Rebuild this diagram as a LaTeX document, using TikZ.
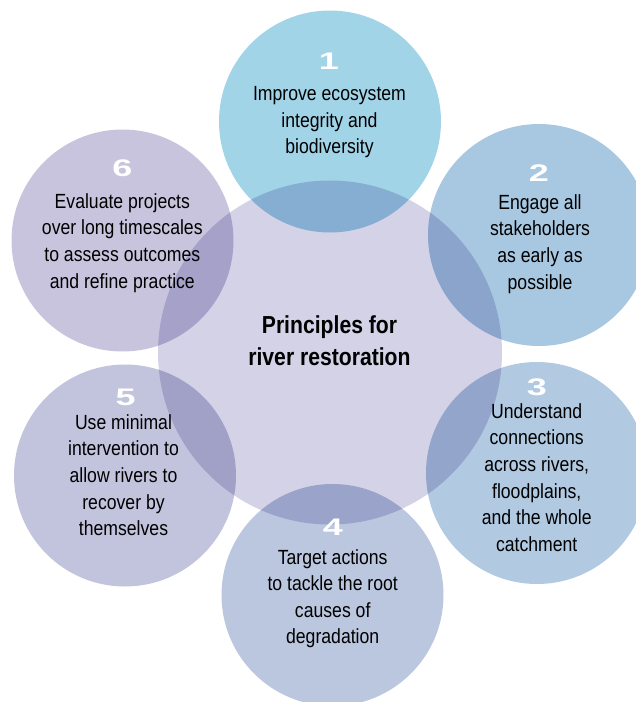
\documentclass[tikz,border=0pt]{standalone}
\usepackage{fontspec}
\setmainfont{Liberation Sans}[FakeStretch=0.86]
\newfontfamily\numfont{Liberation Sans}[FakeStretch=1.5]
\definecolor{colc}{HTML}{D4D2E7}
\definecolor{colA}{HTML}{A2D4E8}
\definecolor{colB}{HTML}{A8C8E2}
\definecolor{colC}{HTML}{B1C9E1}
\definecolor{colD}{HTML}{BAC7DF}
\definecolor{colE}{HTML}{C2C4DD}
\definecolor{colF}{HTML}{C8C4DD}
\begin{document}
\begin{tikzpicture}[x=1pt,y=-1pt,
  bubble/.style={circle, minimum size=222pt, inner sep=0pt, draw=none},
  bodytext/.style={inner sep=0pt, align=center, anchor=base, text=black,
    font=\fontsize{20.5}{26.6}\selectfont},
  titletext/.style={inner sep=0pt, align=center, anchor=base, text=black,
    font=\fontsize{24.6}{31.7}\selectfont\bfseries},
  numtext/.style={inner sep=0pt, anchor=base, text=white,
    font=\numfont\fontsize{24}{24}\selectfont\bfseries}]
\useasboundingbox (0,0) rectangle (636,702);
\clip (0,0) rectangle (636,702);
\begin{scope}[blend mode=multiply]
  \node[bubble, fill=colc, minimum size=344pt] (c) at (330,352.5) {};
  \node[bubble, fill=colA] (c1) at (330,121.5) {};
  \node[bubble, fill=colB] (c2) at (539,235) {};
  \node[bubble, fill=colC] (c3) at (537,473) {};
  \node[bubble, fill=colD] (c4) at (332.5,595) {};
  \node[bubble, fill=colE] (c5) at (125,475.5) {};
  \node[bubble, fill=colF] (c6) at (122.5,240.5) {};
\end{scope}
\node[titletext] (title) at (329.5,365) {Principles for\\river restoration};
\node[numtext] (n1) at (329,69) {1};
\node[numtext] (n2) at (539,181) {2};
\node[numtext] (n3) at (537,395) {3};
\node[numtext] (n4) at (333,535.7) {4};
\node[numtext] (n5) at (125.7,405) {5};
\node[numtext] (n6) at (122.3,176.5) {6};
\node[bodytext] (t1) at (329.5,153.9) {Improve ecosystem\\integrity and\\biodiversity};
\node[bodytext] (t2) at (540,289.1) {Engage all\\stakeholders\\as early as\\possible};
\node[bodytext] (t3) at (536.7,551.3) {Understand\\connections\\across rivers,\\floodplains,\\and the whole\\catchment};
\node[bodytext] (t4) at (332.7,643.8) {Target actions\\to tackle the root\\causes of\\degradation};
\node[bodytext] (t5) at (123.5,535.7) {Use minimal\\intervention to\\allow rivers to\\recover by\\themselves};
\node[bodytext] (t6) at (122.3,288.1) {Evaluate projects\\over long timescales\\to assess outcomes\\and refine practice};
\end{tikzpicture}
\end{document}
